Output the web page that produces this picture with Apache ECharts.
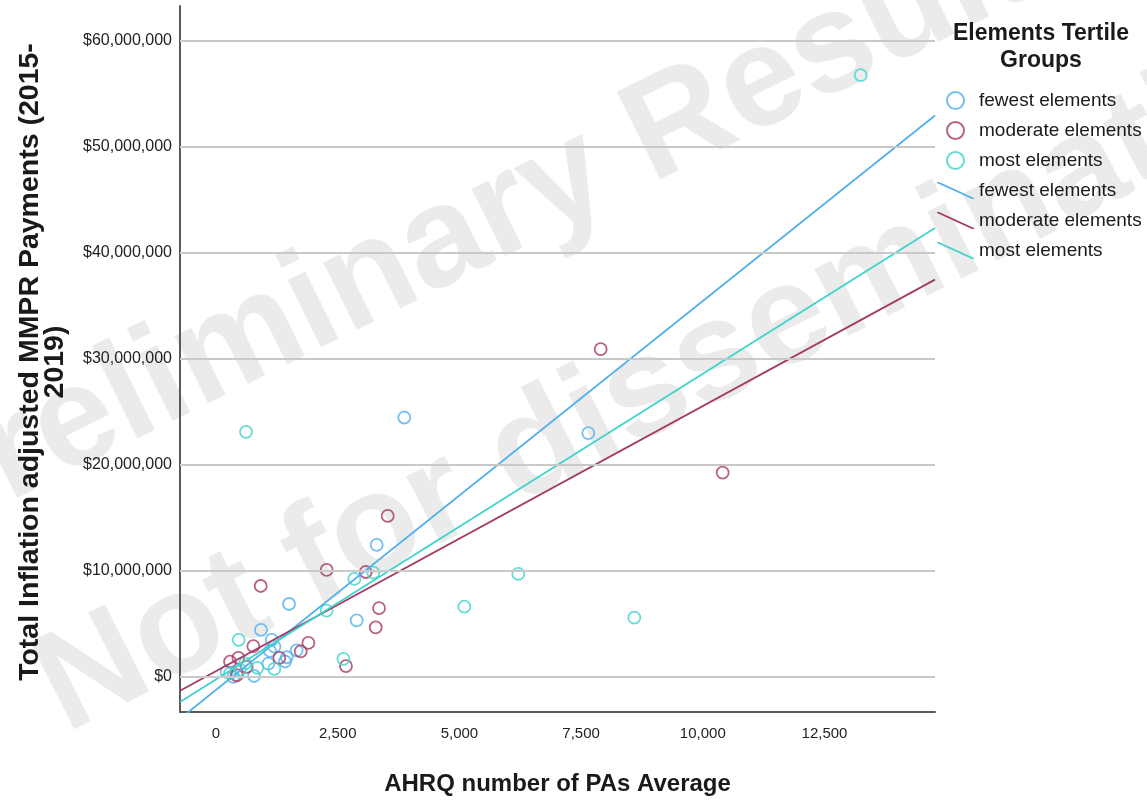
<!DOCTYPE html>
<html>
<head>
<meta charset="utf-8">
<title>MMPR Payments vs AHRQ PAs</title>
<script src="https://cdn.jsdelivr.net/npm/echarts@6/dist/echarts.min.js"></script>
<style>
  html, body { margin: 0; padding: 0; background: #fff; }
  #chart { width: 1147px; height: 801px; }
</style>
</head>
<body>
<div id="chart"></div>
<script>
// tertile groups
const groups = ['fewest elements', 'moderate elements', 'most elements'];

// [AHRQ number of PAs average, total inflation adjusted MMPR payments]
const fewestPoints = [
  [219, 430000], [356, -50000], [781, 30000], [924, 4380000], [1075, 1200000],
  [1109, 2400000], [1144, 3450000], [1200, 2800000], [1417, 1400000], [1452, 1800000],
  [1500, 6830000], [1657, 2450000], [2890, 5280000], [3301, 12410000],
  [3868, 24440000], [7648, 22970000]
];
const moderatePoints = [
  [288, 1380000], [425, 100000], [459, 1750000], [630, 900000], [767, 2860000],
  [918, 8530000], [1301, 1750000], [1740, 2360000], [1897, 3150000], [2273, 10050000],
  [2670, 970000], [3075, 9850000], [3281, 4630000], [3349, 6430000], [3527, 15150000],
  [7902, 30900000], [10408, 19240000]
];
const mostPoints = [
  [288, 280000], [466, 3450000], [493, 600000], [596, 1230000], [616, 23090000],
  [849, 800000], [1198, 700000], [2273, 6200000], [2616, 1650000], [2841, 9200000],
  [3232, 9800000], [5101, 6580000], [6210, 9670000], [8593, 5540000], [13243, 56770000]
];

// linear fit lines, values at the two ends of the x range
const fitX = [-740, 14770];
const fewestFit = [-4000000, 52960000];
const moderateFit = [-1360000, 37460000];
const mostFit = [-2420000, 42340000];

// axes
const xRange = [-740, 14770];
const yRange = [-3370000, 63300000];
const xTicks = [0, 2500, 5000, 7500, 10000, 12500];
const yTicks = [0, 10000000, 20000000, 30000000, 40000000, 50000000, 60000000];

const chart = echarts.init(document.getElementById('chart'));
const fontFamily = "'Liberation Sans', Arial, sans-serif";
const colors = ['#52b0ec', '#a63a62', '#3fd3cc'];
const points = [fewestPoints, moderatePoints, mostPoints];
const fits = [fewestFit, moderateFit, mostFit];
const lineIcon = 'path://M0,0L2,0L37,16L37,17L35,17L0,1Z';
const watermarkFont = "bold 142px 'Liberation Sans', Arial, sans-serif";

const withCommas = v => String(v).replace(/\B(?=(\d{3})+(?!\d))/g, ',');

const scatterSeries = groups.map((g, i) => ({
  name: g,
  type: 'scatter',
  symbol: 'circle',
  symbolSize: 12,
  z: 3,
  itemStyle: { color: 'rgba(0,0,0,0)', borderColor: colors[i], borderWidth: 1.8 },
  data: points[i]
}));

const fitSeries = groups.map((g, i) => ({
  name: g + ' fit',
  type: 'line',
  showSymbol: false,
  z: 4,
  itemStyle: { color: colors[i], borderWidth: 0 },
  lineStyle: { color: colors[i], width: 1.8 },
  data: fitX.map((x, j) => [x, fits[i][j]])
}));

// horizontal grid lines at the y tick values
const gridSeries = {
  name: 'grid',
  type: 'line',
  data: [],
  z: 2,
  markLine: {
    silent: true,
    symbol: ['none', 'none'],
    label: { show: false },
    lineStyle: { color: '#c9c9c9', width: 2, type: 'solid' },
    data: yTicks.map(v => ({ yAxis: v }))
  }
};

const option = {
  backgroundColor: '#fff',
  animation: false,
  textStyle: { fontFamily: fontFamily },
  grid: { left: 180, right: 212, top: 6, bottom: 89 },
  graphic: [
    // watermark
    {
      type: 'text', x: 500, y: 215, rotation: 0.46, z: 0, silent: true,
      style: {
        text: 'Preliminary Results', fill: '#ebebeb', align: 'center', verticalAlign: 'middle',
        font: watermarkFont
      }
    },
    {
      type: 'text', x: 699, y: 368, rotation: 0.47, z: 0, silent: true,
      style: {
        text: 'Not for dissemination', fill: '#ebebeb', align: 'center', verticalAlign: 'middle',
        font: watermarkFont
      }
    },
    // legend title
    {
      type: 'text', x: 1041, y: 20, z: 10,
      style: {
        text: 'Elements Tertile\nGroups', fill: '#1a1a1a', align: 'center', lineHeight: 27,
        font: "bold 23px 'Liberation Sans', Arial, sans-serif"
      }
    }
  ],
  legend: {
    orient: 'vertical',
    left: 932,
    top: 86,
    itemWidth: 37,
    itemHeight: 17,
    itemGap: 11,
    selectedMode: false,
    textStyle: { fontSize: 19, color: '#1a1a1a', fontFamily: fontFamily },
    formatter: name => name.replace(' fit', ''),
    data: groups.map((g, i) => ({
      name: g, icon: 'circle',
      itemStyle: { color: 'rgba(0,0,0,0)', borderColor: colors[i], borderWidth: 2 }
    })).concat(groups.map((g, i) => ({
      name: g + ' fit', icon: lineIcon,
      itemStyle: { color: colors[i], borderWidth: 0 }
    })))
  },
  xAxis: {
    type: 'value',
    min: xRange[0],
    max: xRange[1],
    name: 'AHRQ number of PAs Average',
    nameLocation: 'middle',
    nameGap: 60,
    nameTextStyle: { fontSize: 24, fontWeight: 'bold', color: '#1a1a1a', fontFamily: fontFamily },
    axisLine: { onZero: false, lineStyle: { color: '#5a5a5a', width: 2 } },
    axisTick: { show: false },
    splitLine: { show: false },
    axisLabel: {
      customValues: xTicks,
      margin: 14,
      fontSize: 15,
      color: '#222',
      formatter: v => withCommas(v)
    }
  },
  yAxis: {
    type: 'value',
    min: yRange[0],
    max: yRange[1],
    name: 'Total Inflation adjusted MMPR Payments (2015-\n2019)',
    nameLocation: 'middle',
    nameRotate: 90,
    nameGap: 112,
    nameTextStyle: {
      fontSize: 28.5, lineHeight: 25, fontWeight: 'bold', color: '#1a1a1a', fontFamily: fontFamily,
      padding: [0, 6, 0, 0]
    },
    axisLine: { onZero: false, lineStyle: { color: '#5a5a5a', width: 2 } },
    axisTick: { show: false },
    splitLine: { show: false },
    axisLabel: {
      customValues: yTicks,
      margin: 8,
      fontSize: 16,
      color: '#222',
      formatter: v => '$' + withCommas(v)
    }
  },
  series: [gridSeries].concat(scatterSeries, fitSeries)
};

chart.setOption(option);
</script>
</body>
</html>
